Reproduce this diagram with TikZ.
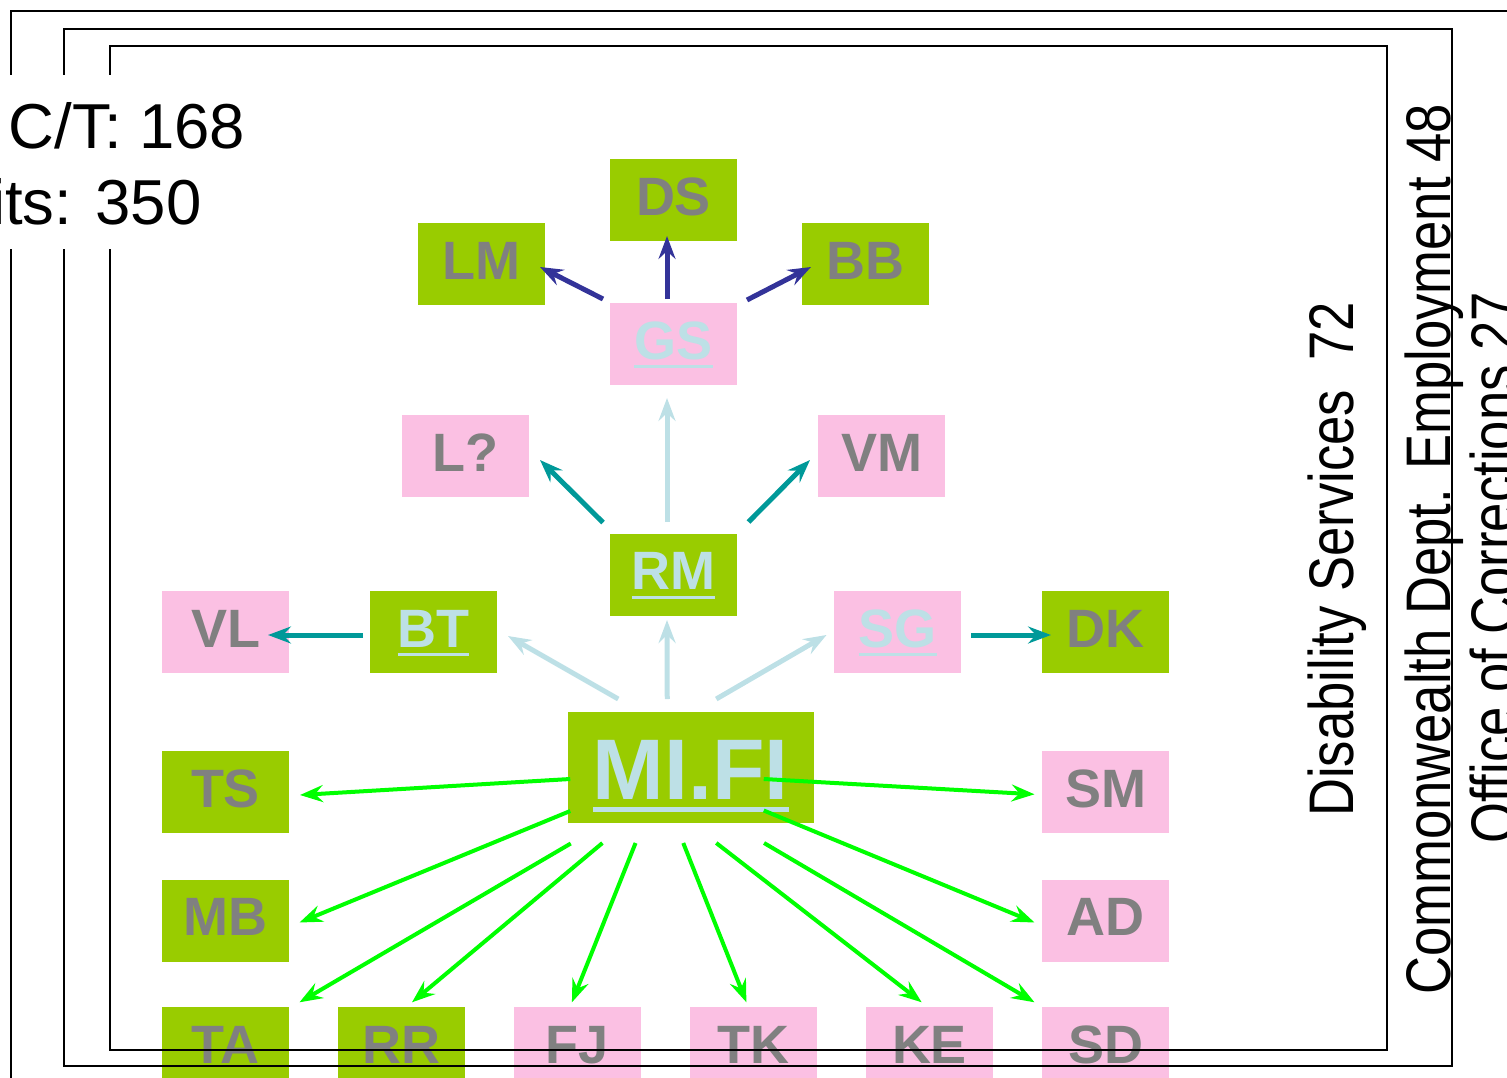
\documentclass[tikz,border=0pt]{standalone}
\usepackage{fontspec}
\setmainfont{Liberation Sans}
\newfontfamily\condfont[FakeStretch=0.835]{Liberation Sans}
\usetikzlibrary{arrows.meta,calc}
\definecolor{boxgreen}{RGB}{153,204,0}
\definecolor{boxpink}{RGB}{251,192,227}
\definecolor{lblue}{RGB}{189,224,230}
\definecolor{dblue}{RGB}{51,51,153}
\definecolor{tealc}{RGB}{0,153,153}
\definecolor{lgreen}{RGB}{0,255,0}
\definecolor{lgray}{RGB}{128,128,128}
\newcommand\ulined[3]{\setbox0=\hbox{#1}\rlap{\rule[-#2]{\wd0}{#3}}\box0}
\begin{document}
\begin{tikzpicture}[x=1pt,y=-1pt,
  box/.style={minimum width=127pt,minimum height=82pt,inner sep=0pt,text height=40pt,text depth=10pt,font=\bfseries\fontsize{54pt}{54pt}\selectfont,text=lgray},
  gbox/.style={box,fill=boxgreen},
  pbox/.style={box,fill=boxpink},
  ul/.style={text=lblue},
  bigbox/.style={fill=boxgreen,minimum width=245.5pt,minimum height=111pt,inner sep=0pt,text height=70pt,text depth=7pt,font=\bfseries\fontsize{86pt}{86pt}\selectfont,text=lblue},
  tip/.style={-{Stealth[length=23pt,width=17pt,inset=8pt]}},
  blueedge/.style={tip,draw=dblue,fill=dblue,line width=5pt},
  tealedge/.style={tip,draw=tealc,fill=tealc,line width=5pt},
  lbedge/.style={tip,draw=lblue,fill=lblue,line width=5pt},
  greenedge/.style={tip,draw=lgreen,fill=lgreen,line width=4pt},
  frame/.style={draw=black,line width=2pt},
  ltext/.style={inner sep=0pt,font=\fontsize{63.5pt}{63.5pt}\selectfont,text=black},
  rtext/.style={inner sep=0pt,rotate=90,anchor=base west,font=\condfont\fontsize{63pt}{63pt}\selectfont,text=black}
]
\useasboundingbox (0,0) rectangle (1507,1078);

% nodes
\node[gbox] (ds) at (673.5,200) {DS};
\node[gbox] (lm) at (481.5,264) {LM};
\node[gbox] (bb) at (865.5,264) {BB};
\node[pbox,ul] (gs) at (673.5,344) {\ulined{GS}{9pt}{3pt}};
\node[pbox] (lq) at (465.5,456) {L?};
\node[pbox] (vm) at (881.5,456) {VM};
\node[gbox,ul] (rm) at (673.5,574.5) {\ulined{RM}{9pt}{3pt}};
\node[pbox] (vl) at (225.5,632) {VL};
\node[gbox,ul] (bt) at (433.5,632) {\ulined{BT}{9pt}{3pt}};
\node[pbox,ul] (sg) at (897.5,632) {\ulined{SG}{9pt}{3pt}};
\node[gbox] (dk) at (1105.5,632) {DK};
\node[bigbox] (mifi) at (690.75,767.5) {\ulined{MI.FI}{12.5pt}{4.5pt}};
\node[gbox] (ts) at (225.5,792) {TS};
\node[pbox] (sm) at (1105.5,792) {SM};
\node[gbox] (mb) at (225.5,920.5) {MB};
\node[pbox] (ad) at (1105.5,920.5) {AD};
\node[gbox] (ta) at (225.5,1048) {TA};
\node[gbox] (rr) at (401.5,1048) {RR};
\node[pbox] (fj) at (577.5,1048) {FJ};
\node[pbox] (tk) at (753.5,1048) {TK};
\node[pbox] (ke) at (929.5,1048) {KE};
\node[pbox] (sd) at (1105.5,1048) {SD};

% edges
\draw[blueedge] ($(gs)+(-70.5,-45)$) -- ($(lm)+(58.5,3)$);
\draw[blueedge] ($(gs)+(-6.5,-45)$) -- ($(ds)+(-6.5,36)$);
\draw[blueedge] ($(gs)+(73.5,-44)$) -- ($(bb)+(-54.5,3)$);
\draw[tealedge] ($(rm)+(-70.5,-52)$) -- ($(lq)+(74.5,4)$);
\draw[tealedge] ($(rm)+(75,-52.5)$) -- ($(vm)+(-71.5,4)$);
\draw[lbedge] ($(rm)+(-6.5,-52.5)$) -- ($(gs)+(-6.5,54)$);
\draw[lbedge] ($(mifi)+(-72.5,-68.5)$) -- ($(bt)+(74.5,4)$);
\draw[lbedge] ($(mifi)+(-23.5,-68.5)$) -- ($(rm)+(-6.5,45.5)$);
\draw[lbedge] ($(mifi)+(25.5,-68.5)$) -- ($(sg)+(-71,3)$);
\draw[tealedge] ($(bt)+(-70.5,3)$) -- ($(vl)+(42.5,3)$);
\draw[tealedge] ($(sg)+(73.5,3)$) -- ($(dk)+(-54.5,3)$);
\draw[greenedge] ($(mifi)+(-120.5,11.5)$) -- ($(ts)+(74.5,3)$);
\draw[greenedge] ($(mifi)+(73,11.5)$) -- ($(sm)+(-71,2.3)$);
\draw[greenedge] ($(mifi)+(-120.5,43.5)$) -- ($(mb)+(74,2)$);
\draw[greenedge] ($(mifi)+(73,43)$) -- ($(ad)+(-71,2)$);
\draw[greenedge] ($(mifi)+(-120,76)$) -- ($(ta)+(74,-45.7)$);
\draw[greenedge] ($(mifi)+(-88.3,75.5)$) -- ($(rr)+(10.5,-45.7)$);
\draw[greenedge] ($(mifi)+(-55.2,75.5)$) -- ($(fj)+(-5.6,-45.7)$);
\draw[greenedge] ($(mifi)+(-7.5,75.5)$) -- ($(tk)+(-7.1,-45.7)$);
\draw[greenedge] ($(mifi)+(25.5,75.5)$) -- ($(ke)+(-7.8,-45.7)$);
\draw[greenedge] ($(mifi)+(73.3,75.5)$) -- ($(sd)+(-71,-45.7)$);

% frames
\draw[frame] (11,1095) -- (11,11) -- (1520,11);
\draw[frame] (64,29) rectangle (1452,1066);
\draw[frame] (110,46) rectangle (1387,1050);

% left text block
\fill[white] (-5,75) rectangle (250,249);
\node[ltext,anchor=base west] (ct) at (8.6,149) {C/T: 168};
\node[ltext,anchor=base west] (vis) at (-9.2,225) {its: 350};

% right texts
\node[rtext] (dis) at (1353,817) {Disability Services\ \ 72};
\node[rtext] (cwe) at (1450,995) {Commonwealth Dept. Employment 48};
\node[rtext] (ooc) at (1515,844) {Office of Corrections 27};
\end{tikzpicture}
\end{document}
